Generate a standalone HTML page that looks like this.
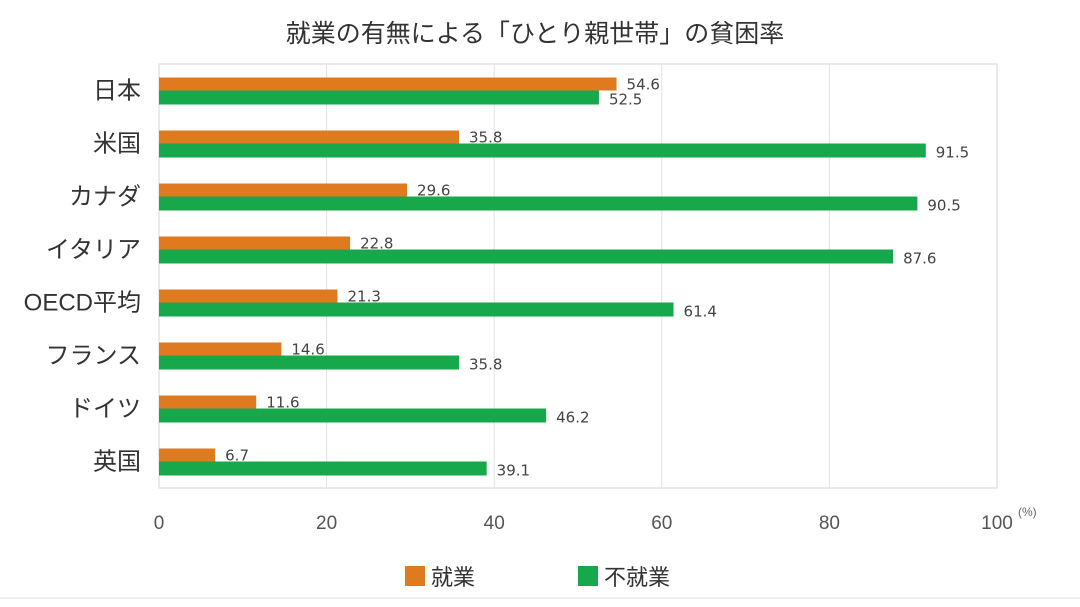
<!DOCTYPE html>
<html><head><meta charset="utf-8"><style>
body{margin:0;background:#fff;width:1080px;height:602px;overflow:hidden}
svg{font-family:"Liberation Sans","Noto Sans CJK JP",sans-serif}
</style></head><body>
<svg id="c" width="1080" height="602">
<text x="535" y="42" text-anchor="middle" font-size="25" fill="#333">就業の有無による「ひとり親世帯」の貧困率</text>
<rect x="159" y="64" width="838" height="424" fill="none" stroke="#d6d6d6"/>
<g id="grid"></g><g id="bars"></g><g id="cats"></g><g id="ticks"></g>
<text x="1018" y="516" font-size="12" fill="#666">(%)</text>
<rect x="405" y="566" width="20" height="20" fill="#e07a1f"/>
<text x="431" y="585" font-size="22" fill="#333">就業</text>
<rect x="578" y="566" width="20" height="20" fill="#17a84b"/>
<text x="604" y="585" font-size="22" fill="#333">不就業</text>
<line x1="0" y1="598" x2="1080" y2="598" stroke="#e0e0e0"/>
</svg>
<script>
const categories=["日本","米国","カナダ","イタリア","OECD平均","フランス","ドイツ","英国"];
const employed=[54.6,35.8,29.6,22.8,21.3,14.6,11.6,6.7];
const unemployed=[52.5,91.5,90.5,87.6,61.4,35.8,46.2,39.1];
const ticks=[0,20,40,60,80,100];
const NS="http://www.w3.org/2000/svg";
const plotX0=159,plotX1=997,plotTop=64,band=53;
const xs=v=>plotX0+(plotX1-plotX0)*v/100;
const yc=i=>plotTop+band*(i+0.5);
function mk(t,a,p){const e=document.createElementNS(NS,t);for(const k in a)e.setAttribute(k,a[k]);document.getElementById(p).appendChild(e);return e;}
ticks.forEach(t=>{
 if(t>0&&t<100){const g=mk('line',{x1:xs(t),x2:xs(t),y1:plotTop,y2:plotTop+band*8,stroke:'#e2e2e2'},'grid');
 
 }
 const l=mk('text',{x:xs(t),y:529,'text-anchor':'middle','font-size':19,fill:'#555'},'ticks');
 
 
 l.textContent=t;
});
categories.forEach((c,i)=>{
 const y=yc(i);
 const a=mk('rect',{x:plotX0,y:y-13,width:xs(employed[i])-plotX0,height:13,fill:'#e07a1f'},'bars');
 
 
 const b=mk('rect',{x:plotX0,y:y,width:xs(unemployed[i])-plotX0,height:14,fill:'#17a84b'},'bars');
 
 
 const la=mk('text',{x:xs(employed[i])+10,y:y-1,'font-size':15,fill:'#444','font-family':'DejaVu Sans, sans-serif'},'bars');
 
 
 la.textContent=employed[i].toFixed(1);
 const lb=mk('text',{x:xs(unemployed[i])+10,y:y+14,'font-size':15,fill:'#444','font-family':'DejaVu Sans, sans-serif'},'bars');
 
 
 lb.textContent=unemployed[i].toFixed(1);
 const cl=mk('text',{x:141,y:y+8,'text-anchor':'end','font-size':24,fill:'#333'},'cats');
 
 
 cl.textContent=c;
});
</script>
</body></html>
